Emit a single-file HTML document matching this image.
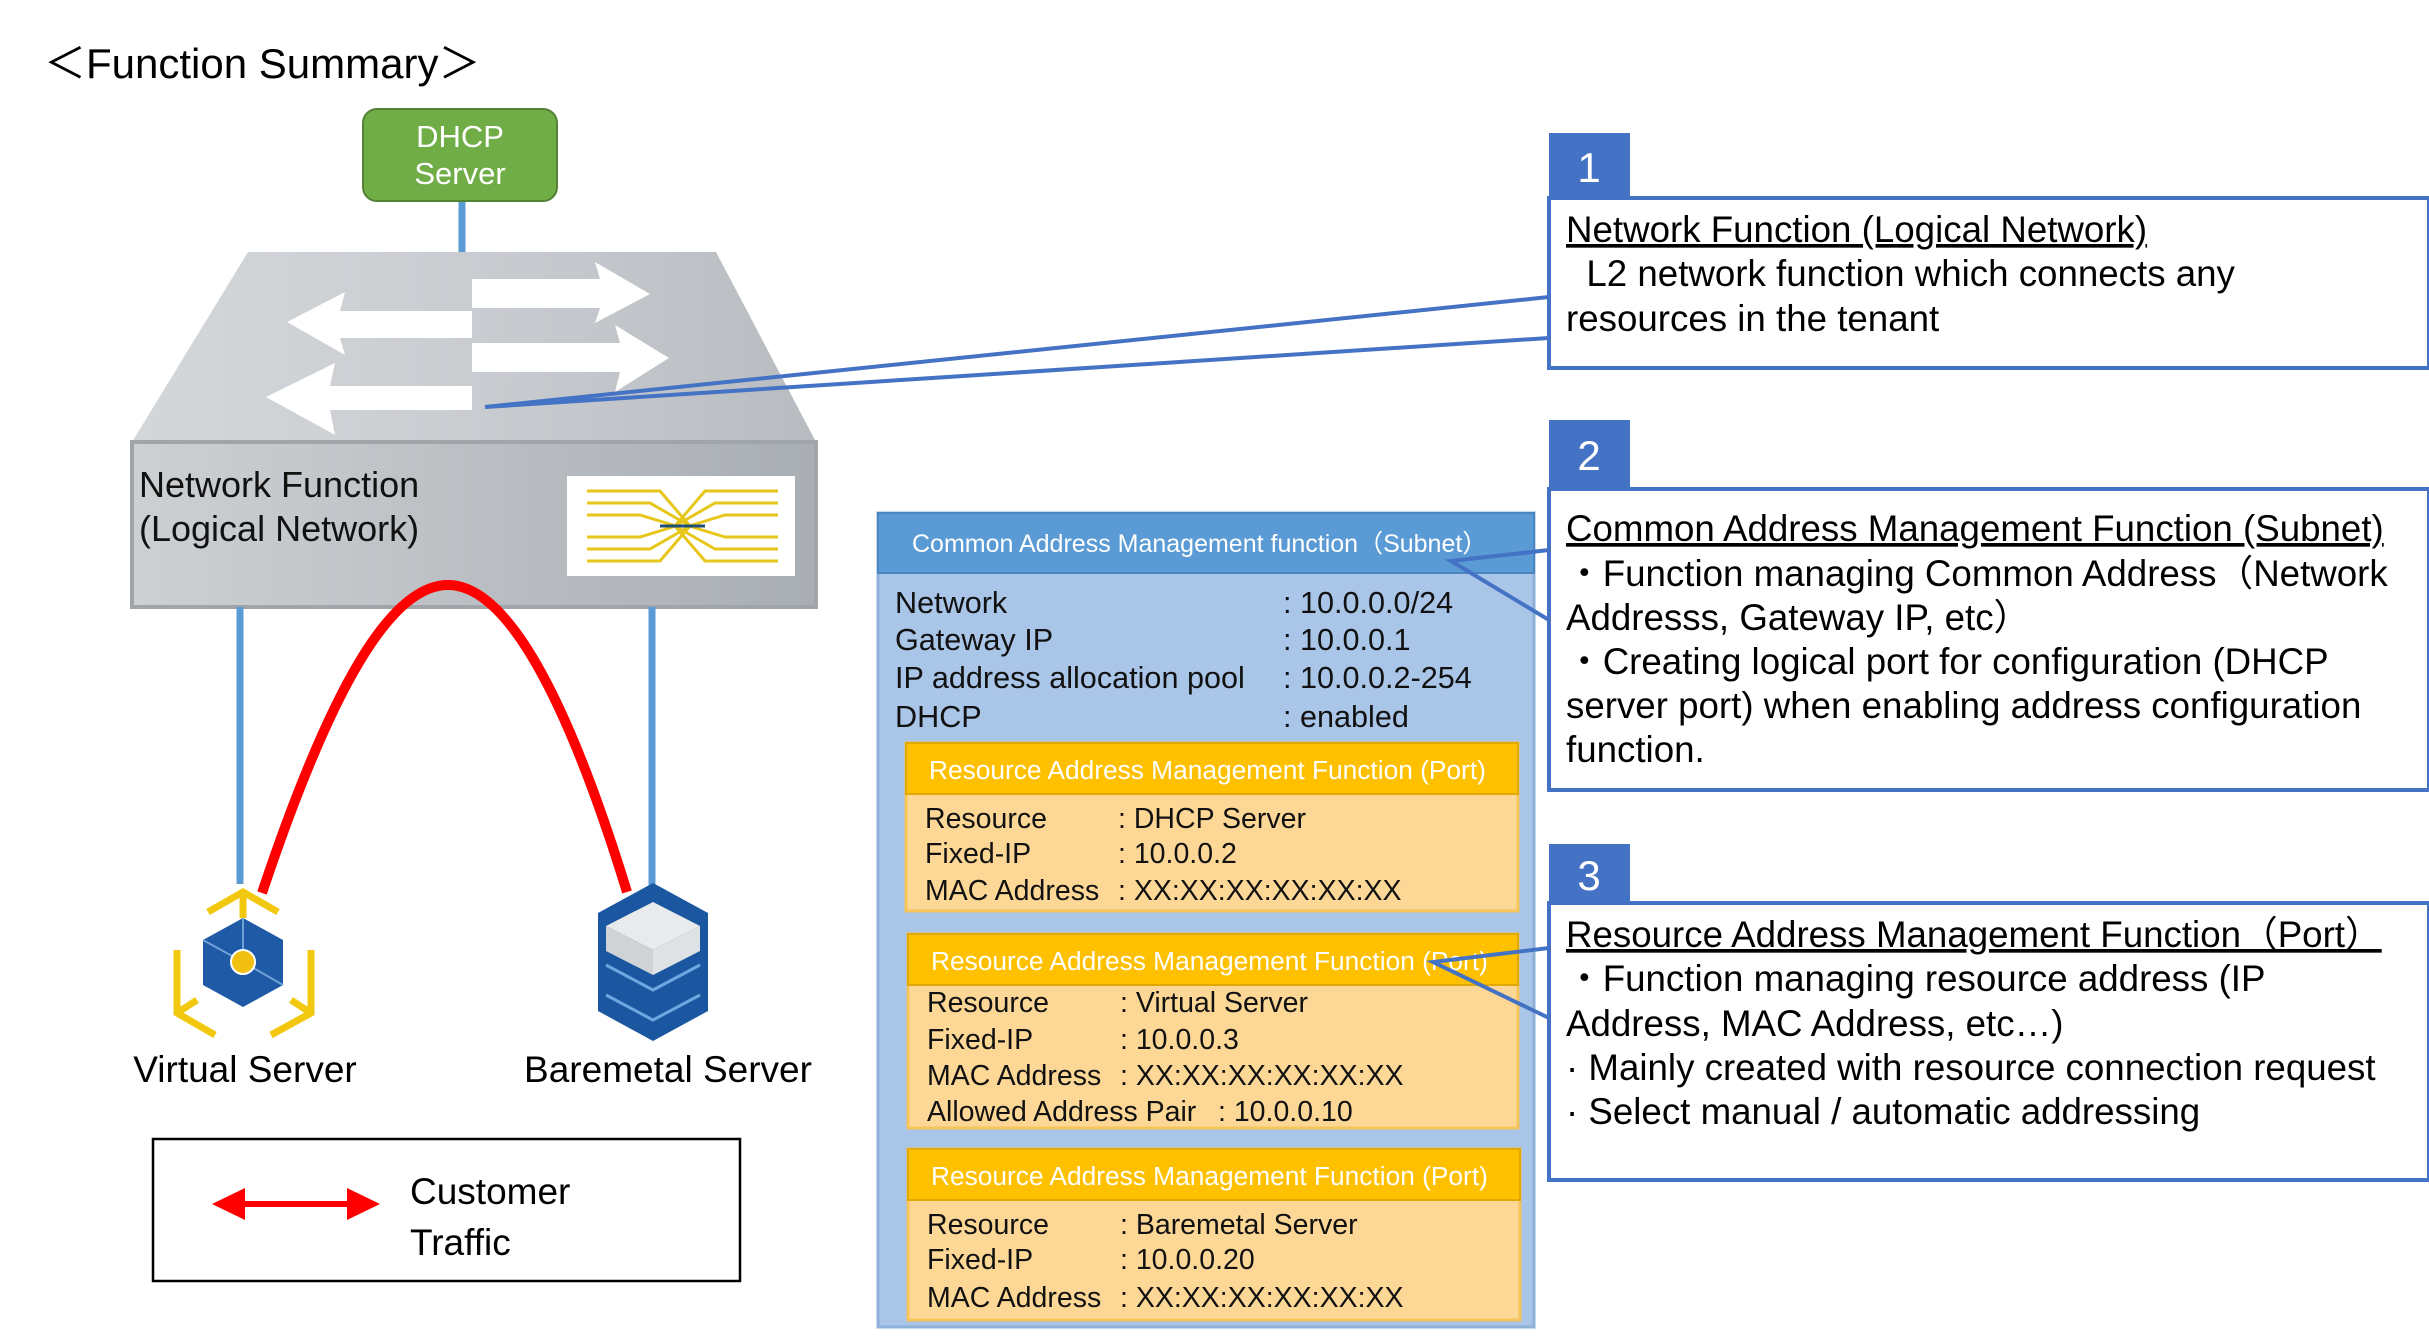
<!DOCTYPE html>
<html><head><meta charset="utf-8"><style>
html,body{margin:0;padding:0;background:#fff;}
svg{display:block;font-family:"Liberation Sans","Noto Sans CJK JP",sans-serif;}
</style></head><body>
<svg width="2429" height="1337" viewBox="0 0 2429 1337" xmlns="http://www.w3.org/2000/svg">
<defs>
<linearGradient id="top" x1="0" y1="0" x2="1" y2="0"><stop offset="0" stop-color="#d4d7da"/><stop offset="0.5" stop-color="#c9ccd0"/><stop offset="1" stop-color="#b8bcc0"/></linearGradient>
<linearGradient id="front" x1="0" y1="0" x2="1" y2="0"><stop offset="0" stop-color="#cdd0d3"/><stop offset="1" stop-color="#a9aeb3"/></linearGradient>
</defs>
<text x="44" y="78" font-size="42" fill="#000">＜Function Summary＞</text>
<!-- DHCP -->
<line x1="462" y1="200" x2="462" y2="258" stroke="#5b9bd5" stroke-width="7"/>
<rect x="363" y="109" width="194" height="92" rx="14" fill="#70ad47" stroke="#548235" stroke-width="2"/>
<text x="460" y="147" font-size="31" fill="#fff" text-anchor="middle">DHCP</text>
<text x="460" y="184" font-size="31" fill="#fff" text-anchor="middle">Server</text>
<!-- switch -->
<polygon points="248,252 716,252 816,442 132,442" fill="url(#top)"/>
<rect x="132" y="442" width="684" height="165" fill="url(#front)" stroke="#a0a5aa" stroke-width="4"/>
<g fill="#fff">
<polygon points="472,279 600,279 595,262 650,294 595,323 600,308 472,308"/>
<polygon points="472,311 340,311 345,292 287,322 345,355 340,338 472,338"/>
<polygon points="472,343 620,343 615,325 669,358 615,392 620,372 472,372"/>
<polygon points="472,386 330,386 335,363 266,397 335,435 330,410 472,410"/>
</g>
<text x="139" y="497" font-size="36" fill="#111">Network Function</text>
<text x="139" y="541" font-size="36" fill="#111">(Logical Network)</text>
<rect x="567" y="476" width="228" height="100" fill="#fff"/>
<g stroke="#e6c619" stroke-width="3" fill="none">
<path d="M587,491 H660 L690,526"/><path d="M587,503 H650 L690,526"/><path d="M587,515 H640 L676,526"/><path d="M587,537 H640 L676,526"/><path d="M587,549 H650 L690,526"/><path d="M587,561 H660 L690,526"/>
<path d="M778,491 H705 L675,526"/><path d="M778,503 H715 L675,526"/><path d="M778,515 H725 L689,526"/><path d="M778,537 H725 L689,526"/><path d="M778,549 H715 L675,526"/><path d="M778,561 H705 L675,526"/>
</g>
<line x1="660" y1="526" x2="705" y2="526" stroke="#1f4e79" stroke-width="3"/>
<!-- vertical links -->
<line x1="240" y1="607" x2="240" y2="884" stroke="#5b9bd5" stroke-width="7"/>
<line x1="652" y1="607" x2="652" y2="886" stroke="#5b9bd5" stroke-width="7"/>
<path d="M262,893 C330,690 390,585 448,585 C505,585 565,690 627,892" fill="none" stroke="#ff0000" stroke-width="10"/>
<!-- virtual server icon -->
<g stroke="#f2c80f" stroke-width="7" fill="none">
<path d="M243,918 V892 M208,912 L243,892 L278,912"/>
<path d="M177,950 V1013 L215,1035 M177,1013 L197,1000"/>
<path d="M311,950 V1013 L271,1035 M311,1013 L291,1000"/>
</g>
<polygon points="243,918 283,940 283,985 243,1007 203,985 203,940" fill="#1f5aa6"/>
<path d="M243,918 V962 M203,940 L243,962 L283,985" stroke="#6fa0d8" stroke-width="2" fill="none"/>
<circle cx="243" cy="962" r="12" fill="#f2c011" stroke="#fff" stroke-width="2"/>
<!-- baremetal icon -->
<polygon points="653,883 708,913 708,1011 653,1041 598,1011 598,913" fill="#1b57a0"/>
<polygon points="653,902 700,926 653,950 606,926" fill="#e8eaec"/>
<polygon points="606,926 653,950 653,975 606,951" fill="#cfd3d6"/>
<polygon points="653,950 700,926 700,951 653,975" fill="#dfe2e4"/>
<path d="M606,965 L653,990 L700,965 M606,995 L653,1020 L700,995" stroke="#6fa8e0" stroke-width="3" fill="none"/>
<text x="245" y="1082" font-size="37" fill="#000" text-anchor="middle">Virtual Server</text>
<text x="668" y="1082" font-size="37" fill="#000" text-anchor="middle">Baremetal Server</text>
<!-- legend -->
<rect x="153" y="1139" width="587" height="142" fill="#fff" stroke="#000" stroke-width="2.5"/>
<line x1="235" y1="1204" x2="357" y2="1204" stroke="#ff0000" stroke-width="6"/>
<polygon points="212,1204 245,1188 245,1220" fill="#ff0000"/>
<polygon points="380,1204 347,1188 347,1220" fill="#ff0000"/>
<text x="410" y="1204" font-size="37" fill="#000">Customer</text>
<text x="410" y="1255" font-size="37" fill="#000">Traffic</text>
<!-- subnet box -->
<rect x="878" y="513" width="656" height="814" fill="#a9c5e8" stroke="#8fb0d8" stroke-width="3"/>
<rect x="878" y="513" width="656" height="60" fill="#5b9bd5" stroke="#4a86c0" stroke-width="2"/>
<text x="912" y="552" font-size="25" fill="#fff">Common Address Management function（Subnet）</text>
<g font-size="30.6" fill="#111">
<text x="895" y="613">Network</text><text x="1283" y="613">: 10.0.0.0/24</text>
<text x="895" y="650">Gateway IP</text><text x="1283" y="650">: 10.0.0.1</text>
<text x="895" y="688">IP address allocation pool</text><text x="1283" y="688">: 10.0.0.2-254</text>
<text x="895" y="727">DHCP</text><text x="1283" y="727">: enabled</text>
</g>
<g>
<rect x="906" y="743" width="612" height="168" fill="#fdd795" stroke="#f5c45a" stroke-width="3"/>
<rect x="906" y="743" width="612" height="51" fill="#ffc000" stroke="#e0a800" stroke-width="2"/>
<text x="929" y="779" font-size="26.3" fill="#fff">Resource Address Management Function (Port)</text>
<g font-size="28.5" fill="#111">
<text x="925" y="828">Resource</text><text x="1118" y="828">: DHCP Server</text>
<text x="925" y="863">Fixed-IP</text><text x="1118" y="863">: 10.0.0.2</text>
<text x="925" y="900">MAC Address</text><text x="1118" y="900">: XX:XX:XX:XX:XX:XX</text>
</g>
<rect x="908" y="934" width="610" height="194" fill="#fdd795" stroke="#f5c45a" stroke-width="3"/>
<rect x="908" y="934" width="610" height="51" fill="#ffc000" stroke="#e0a800" stroke-width="2"/>
<text x="931" y="970" font-size="26.3" fill="#fff">Resource Address Management Function (Port)</text>
<g font-size="28.5" fill="#111">
<text x="927" y="1012">Resource</text><text x="1120" y="1012">: Virtual Server</text>
<text x="927" y="1049">Fixed-IP</text><text x="1120" y="1049">: 10.0.0.3</text>
<text x="927" y="1085">MAC Address</text><text x="1120" y="1085">: XX:XX:XX:XX:XX:XX</text>
<text x="927" y="1121">Allowed Address Pair</text><text x="1218" y="1121">: 10.0.0.10</text>
</g>
<rect x="908" y="1149" width="612" height="171" fill="#fdd795" stroke="#f5c45a" stroke-width="3"/>
<rect x="908" y="1149" width="612" height="51" fill="#ffc000" stroke="#e0a800" stroke-width="2"/>
<text x="931" y="1185" font-size="26.3" fill="#fff">Resource Address Management Function (Port)</text>
<g font-size="28.5" fill="#111">
<text x="927" y="1234">Resource</text><text x="1120" y="1234">: Baremetal Server</text>
<text x="927" y="1269">Fixed-IP</text><text x="1120" y="1269">: 10.0.0.20</text>
<text x="927" y="1307">MAC Address</text><text x="1120" y="1307">: XX:XX:XX:XX:XX:XX</text>
</g>
</g>
<!-- callouts -->
<g stroke="#4472c4" stroke-width="4" fill="none">
<path d="M1549,297 L485,407 L1549,338"/>
<path d="M1549,550 L1451,561 L1549,620"/>
<path d="M1549,948 L1433,962 L1549,1018"/>
</g>
<rect x="1549" y="133" width="81" height="65" fill="#4472c4"/>
<text x="1589" y="182" font-size="42" fill="#fff" text-anchor="middle">1</text>
<rect x="1549" y="420" width="81" height="69" fill="#4472c4"/>
<text x="1589" y="470" font-size="42" fill="#fff" text-anchor="middle">2</text>
<rect x="1549" y="844" width="81" height="59" fill="#4472c4"/>
<text x="1589" y="890" font-size="42" fill="#fff" text-anchor="middle">3</text>
<g fill="#fff" stroke="#4472c4" stroke-width="4">
<rect x="1549" y="198" width="880" height="170"/>
<rect x="1549" y="489" width="880" height="301"/>
<rect x="1549" y="903" width="880" height="277"/>
</g>
<g font-size="36.7" fill="#000">
<text x="1566" y="242" text-decoration="underline">Network Function (Logical Network)</text>
<text x="1566" y="286" xml:space="preserve">  L2 network function which connects any</text>
<text x="1566" y="331">resources in the tenant</text>
<text x="1566" y="541" text-decoration="underline">Common Address Management Function (Subnet)</text>
<text x="1566" y="586">・Function managing Common Address（Network</text>
<text x="1566" y="630">Addresss, Gateway IP, etc）</text>
<text x="1566" y="674">・Creating logical port for configuration (DHCP</text>
<text x="1566" y="718">server port) when enabling address configuration</text>
<text x="1566" y="762">function.</text>
<text x="1566" y="947" text-decoration="underline">Resource Address Management Function（Port）</text>
<text x="1566" y="991">・Function managing resource address (IP</text>
<text x="1566" y="1036">Address, MAC Address, etc…)</text>
<text x="1566" y="1080">· Mainly created with resource connection request</text>
<text x="1566" y="1124">· Select manual / automatic addressing</text>
</g>
</svg>
</body></html>
